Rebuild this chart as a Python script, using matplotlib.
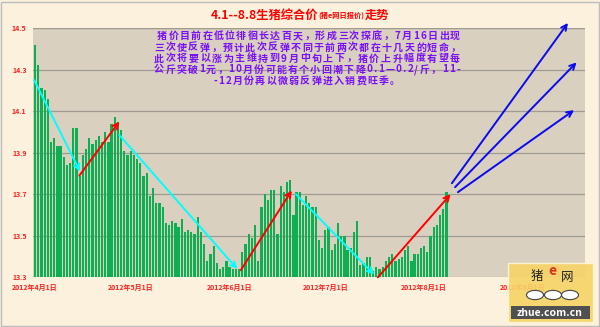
import numpy as np
import matplotlib
matplotlib.use("Agg")
import matplotlib.pyplot as plt
from matplotlib.patches import Rectangle, Circle

plt.rcParams['font.family'] = ['Noto Sans CJK SC', 'DejaVu Sans']

# daily pig price 2012-04-01 .. 2012-08-08 (day 0 = Apr 1)
prices = [14.42, 14.32, 14.21, 14.20, 14.16, 13.95, 13.97, 13.93, 13.93, 13.88,
          13.84, 13.85, 14.02, 14.02, 13.79, 13.89, 13.92, 13.97, 13.94, 13.96,
          13.98, 13.95, 14.00, 13.95, 14.04, 14.07, 14.05, 14.01, 13.91, 13.89,
          13.91, 13.89, 13.87, 13.85, 13.79, 13.80, 13.69, 13.73, 13.66, 13.66,
          13.64, 13.56, 13.55, 13.57, 13.56, 13.54, 13.58, 13.52, 13.53, 13.52,
          13.51, 13.59, 13.52, 13.46, 13.38, 13.41, 13.45, 13.37, 13.34, 13.35,
          13.38, 13.35, 13.34, 13.34, 13.34, 13.42, 13.46, 13.51, 13.49, 13.55,
          13.38, 13.64, 13.70, 13.67, 13.72, 13.72, 13.51, 13.74, 13.71, 13.76,
          13.77, 13.60, 13.71, 13.71, 13.65, 13.69, 13.66, 13.64, 13.64, 13.48,
          13.44, 13.53, 13.54, 13.43, 13.46, 13.56, 13.50, 13.50, 13.43, 13.44,
          13.52, 13.57, 13.36, 13.37, 13.40, 13.40, 13.33, 13.35, 13.34, 13.35,
          13.38, 13.40, 13.41, 13.38, 13.39, 13.40, 13.43, 13.45, 13.38, 13.41,
          13.41, 13.44, 13.45, 13.42, 13.50, 13.54, 13.55, 13.60, 13.63, 13.71]
days = np.arange(len(prices))

tick_days = [0, 30, 61, 91, 122, 153]
tick_labels = ["2012年4月1日", "2012年5月1日", "2012年6月1日",
               "2012年7月1日", "2012年8月1日", "2012年9月1日"]
y_ticks = [13.3, 13.5, 13.7, 13.9, 14.1, 14.3, 14.5]

# trend arrows: (start day, start price, end day, end price)
cyan_arrows = [(-0.3, 14.25, 14.1, 13.81), (26.4, 13.985, 63.4, 13.34), (81.8, 13.70, 106.3, 13.313)]
red_arrows = [(13.9, 13.79, 26.4, 14.05), (64.5, 13.334, 80.5, 13.718), (107.5, 13.30, 130.3, 13.70)]
blue_arrows = [(130.7, 13.753, 167.1, 14.525), (131.7, 13.734, 169.8, 14.335), (132.6, 13.71, 169.0, 14.105)]

note_lines = ["猪价目前在低位徘徊长达百天，形成三次探底，7月16日出现",
              "三次使反弹，预计此次反弹不同于前两次都在十几天的短命，",
              "此次将要以涨为主维持到9月中旬上下，猪价上升幅度有望每",
              "公斤突破1元，10月份可能有个小回潮下降0.1—0.2/斤，11-",
              "-12月份再以微弱反弹进入销费旺季。"]

fig = plt.figure(figsize=(6, 3.27), dpi=100, facecolor='#FBF1DC')
ax = fig.add_axes([0.0558, 0.152, 0.919, 0.762])
ax.set_facecolor('#D9D0BF')

ax.bar(days, prices, width=0.7, bottom=0, color='#10AE52', edgecolor='none', zorder=2)
ax.set_ylim(13.3, 14.5)
ax.set_xlim(-0.5, 172.4)
ax.set_yticks(y_ticks)
ax.set_yticklabels([f"{v:.1f}" for v in y_ticks])
ax.set_xticks(tick_days)
ax.set_xticklabels(tick_labels)
ax.tick_params(length=0, labelsize=5, labelcolor='#FF2020', pad=5)
for lab in ax.get_xticklabels() + ax.get_yticklabels():
    lab.set_fontweight('bold')
ax.grid(axis='y', color='#A09A90', lw=0.9, zorder=1)
for s in ax.spines.values():
    s.set_visible(False)
ax.axhline(14.5, color='#A09A90', lw=0.9, zorder=1)

for arrows, col in [(cyan_arrows, '#00FFFF'), (red_arrows, '#FF0000'), (blue_arrows, '#0A0AF0')]:
    for x0, y0, x1, y1 in arrows:
        ax.annotate('', xy=(x1, y1), xytext=(x0, y0), annotation_clip=False, zorder=4,
                    arrowprops=dict(arrowstyle='->', color=col, lw=1.4,
                                    shrinkA=0, shrinkB=0, mutation_scale=10))

fig.canvas.draw()
r = fig.canvas.get_renderer()

# note text, each line spread evenly between a left and right pixel x
note_style = dict(fontsize=7.2, fontweight='bold', color='#7A10F5', va='center')
line_y = [36, 47.5, 58.5, 69.5, 81]
line_x = [(157, 460), (154, 460), (154, 460), (154, 460), (213, 400)]
for txt, py, (x_left, x_right) in zip(note_lines, line_y, line_x):
    yf = 1 - py / 327
    widths = []
    for ch in txt:
        t = fig.text(0, 0, ch, **note_style)
        widths.append(t.get_window_extent(r).width)
        t.remove()
    gap = (x_right - x_left - sum(widths)) / (len(txt) - 1)
    x = x_left
    for ch, w in zip(txt, widths):
        fig.text(x / 600, yf, ch, ha='left', **note_style)
        x += w + gap

# title in three pieces
xpos = 211
for txt, fs in [("4.1--8.8生猪综合价", 8.8), ("(猪e网日报价)", 5.2), ("走势", 8.8)]:
    t = fig.text(xpos / 600, 1 - 15 / 327, txt, ha='left', va='center',
                 fontsize=fs, fontweight='bold', color='#FF0000')
    xpos += t.get_window_extent(r).width

# zhue logo
fig.patches.append(Rectangle((508 / 600, 5 / 327), 85 / 600, 59 / 327, transform=fig.transFigure,
                             facecolor='#F6D466', edgecolor='#FFF6D8', lw=1, alpha=0.9, zorder=5))
fig.patches.append(Rectangle((511 / 600, 8 / 327), 79 / 600, 13 / 327, transform=fig.transFigure,
                             facecolor='#505050', edgecolor='none', zorder=6))
for cx in [535, 553, 570]:
    fig.patches.append(Circle((cx / 600, 1 - 295 / 327), 8.5 / 600, transform=fig.transFigure,
                              facecolor='#FFFFFF', edgecolor='#444444', lw=0.8, zorder=6))
fig.text(537 / 600, 1 - 276 / 327, "猪", fontsize=9, ha='center', va='center', color='#222222', zorder=7)
fig.text(552 / 600, 1 - 271 / 327, "e", fontsize=10, ha='center', va='center', color='#E03020',
         style='italic', fontweight='bold', zorder=7)
fig.text(567 / 600, 1 - 277 / 327, "网", fontsize=9, ha='center', va='center', color='#222222', zorder=7)
fig.text(550 / 600, 1 - 313 / 327, "zhue.com.cn", fontsize=7.5, ha='center', va='center',
         color='#FFFFFF', fontweight='bold', zorder=7)

fig.patches.append(Rectangle((0.002, 0.004), 0.996, 0.99, transform=fig.transFigure,
                             facecolor='none', edgecolor='#BDBDBD', lw=1, zorder=8))

fig.savefig("out.png", dpi=100, facecolor=fig.get_facecolor())
